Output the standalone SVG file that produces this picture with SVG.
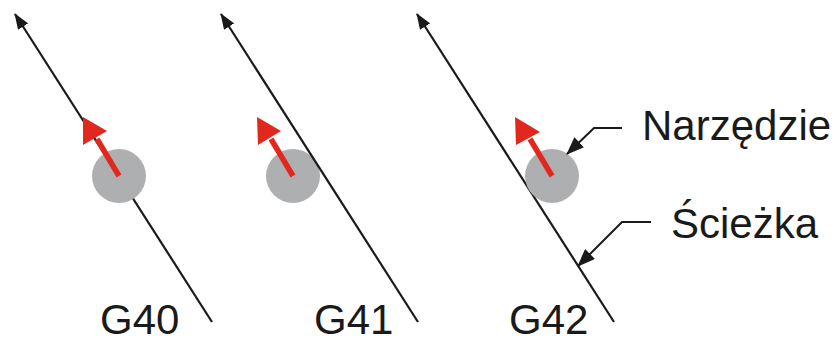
<svg xmlns="http://www.w3.org/2000/svg" width="837" height="340" viewBox="0 0 837 340">
<style>
.path{fill:none;stroke:#1a1a1a;stroke-width:2.2}
.tool{fill:#aeafb0}
.dir{fill:none;stroke:#e0281e;stroke-width:5.5}
.head{fill:#e0281e}
.lead{fill:none;stroke:#1a1a1a;stroke-width:2}
.lbl{font-family:"Liberation Sans",Arial,sans-serif;font-size:42px;fill:#1a1a1a}
</style>
<defs>
<marker id="ah" markerUnits="userSpaceOnUse" markerWidth="16" markerHeight="12" viewBox="0 0 16 12" refX="15" refY="6" orient="auto">
<path d="M0,0 L16,6 L0,12 Z" fill="#1a1a1a"/>
</marker>
<marker id="lh" markerUnits="userSpaceOnUse" markerWidth="18" markerHeight="14" viewBox="0 0 18 14" refX="17" refY="7" orient="auto">
<path d="M0,0 L18,7 L0,14 Z" fill="#1a1a1a"/>
</marker>
</defs>
<g id="g40">
<path class="path" d="M212,322 L15,14" marker-end="url(#ah)"/>
<circle class="tool" cx="119" cy="176" r="27"/>
<path class="dir" d="M119,176 L97,139"/>
<polygon class="head" points="83,117 83,145 107,131"/>
<text class="lbl" x="100" y="334">G40</text>
</g>
<g id="g41">
<circle class="tool" cx="293" cy="176" r="27"/>
<path class="path" d="M418,322 L221,14" marker-end="url(#ah)"/>
<path class="dir" d="M293,176 L271,139"/>
<polygon class="head" points="257,117 258,145 281,131"/>
<text class="lbl" x="314" y="334">G41</text>
</g>
<g id="g42">
<path class="path" d="M614,322 L417,14" marker-end="url(#ah)"/>
<circle class="tool" cx="552" cy="176" r="27"/>
<path class="dir" d="M552,176 L530,139"/>
<polygon class="head" points="515,117 516,145 540,132"/>
<text class="lbl" x="509" y="334">G42</text>
</g>
<g id="connectors">
<path class="lead" d="M622,128 L594,128 L567,154" marker-end="url(#lh)"/>
<path class="lead" d="M651,222 L622,222 L578,266" marker-end="url(#lh)"/>
</g>
<g id="narzedzie"><text class="lbl" x="642" y="140">Narzędzie</text></g>
<g id="sciezka"><text class="lbl" x="671" y="238">Ścieżka</text></g>
</svg>
